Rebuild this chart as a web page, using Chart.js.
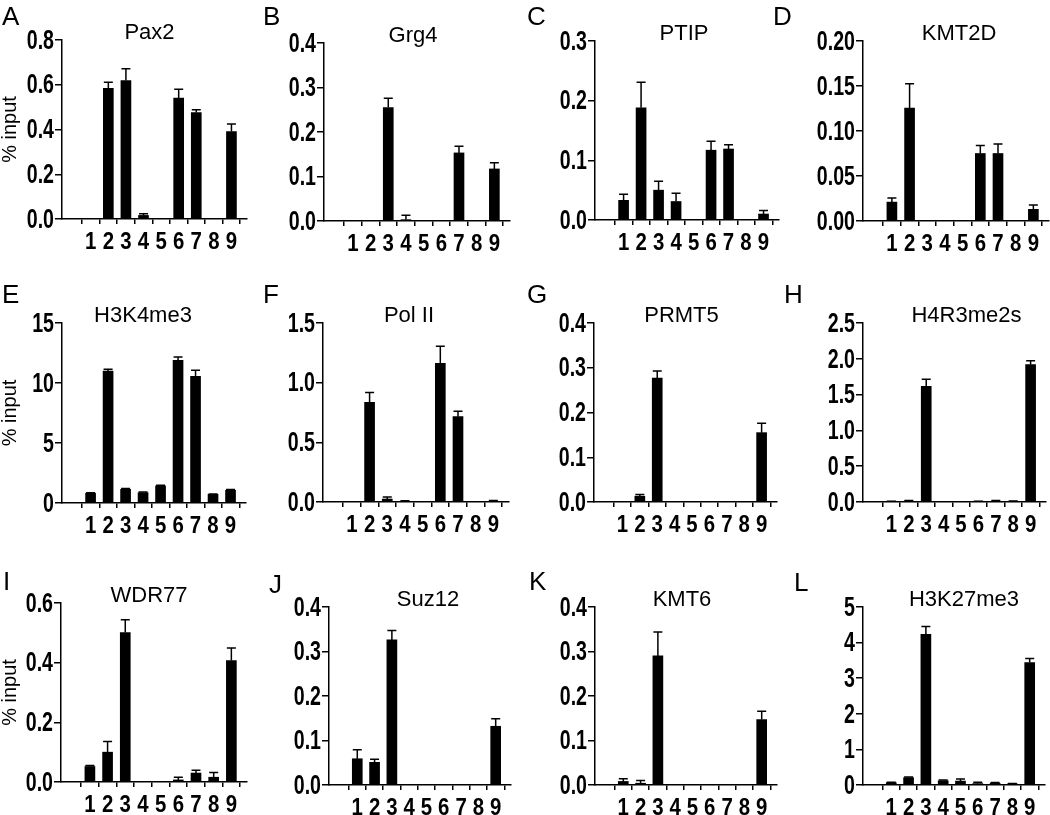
<!DOCTYPE html>
<html>
<head>
<meta charset="utf-8">
<script src="https://cdn.jsdelivr.net/npm/chart.js@4.4.1/dist/chart.umd.min.js"></script>
<style>
  html, body { margin: 0; padding: 0; background: #fff; overflow: hidden; }
  body { width: 1050px; height: 815px; position: relative; }
  .panel { position: absolute; }
  .letter { position: absolute; z-index: 2; color: #000;
            font: 26px 'Liberation Sans', Arial, sans-serif; line-height: 26px; }
</style>
</head>
<body>
<script>
// ChIP sites on the x axis
const sites = [1, 2, 3, 4, 5, 6, 7, 8, 9];

// % input, mean and error (upper bar only)
const pax2     = [0, 0.584, 0.619, 0.016, 0, 0.540, 0.476, 0, 0.391];
const pax2Err  = [0, 0.027, 0.052, 0.008, 0, 0.040, 0.012, 0, 0.034];
const grg4     = [0, 0, 0.255, 0.003, 0, 0, 0.153, 0, 0.117];
const grg4Err  = [0, 0, 0.021, 0.010, 0, 0, 0.015, 0, 0.014];
const ptip     = [0.033, 0.188, 0.050, 0.031, 0, 0.117, 0.119, 0, 0.010];
const ptipErr  = [0.010, 0.043, 0.015, 0.014, 0, 0.015, 0.007, 0, 0.006];
const kmt2d    = [0.021, 0.1255, 0, 0, 0, 0.075, 0.075, 0, 0.013];
const kmt2dErr = [0.0045, 0.027, 0, 0, 0, 0.009, 0.0106, 0, 0.0048];

const h3k4me3    = [0.81, 11.0, 1.14, 0.86, 1.42, 11.89, 10.56, 0.72, 1.06];
const h3k4me3Err = [0.05, 0.14, 0.06, 0.05, 0.05, 0.28, 0.5, 0.04, 0.06];
const polII      = [0, 0.835, 0.025, 0.005, 0, 1.161, 0.715, 0, 0.004];
const polIIErr   = [0, 0.083, 0.017, 0.006, 0, 0.144, 0.045, 0, 0.008];
const prmt5      = [0, 0.013, 0.277, 0, 0, 0, 0, 0, 0.155];
const prmt5Err   = [0, 0.004, 0.016, 0, 0, 0, 0, 0, 0.021];
const h4r3me2s    = [0.005, 0.01, 1.615, 0, 0, 0.005, 0.01, 0.01, 1.918];
const h4r3me2sErr = [0.005, 0.01, 0.098, 0, 0, 0.005, 0.01, 0.005, 0.056];

const wdr77     = [0.052, 0.100, 0.501, 0, 0, 0.007, 0.030, 0.016, 0.407];
const wdr77Err  = [0.003, 0.036, 0.043, 0, 0, 0.009, 0.009, 0.016, 0.042];
const suz12     = [0.059, 0.051, 0.326, 0, 0, 0, 0, 0, 0.132];
const suz12Err  = [0.020, 0.007, 0.021, 0, 0, 0, 0, 0, 0.017];
const kmt6      = [0.008, 0.004, 0.290, 0, 0, 0, 0, 0, 0.147];
const kmt6Err   = [0.006, 0.006, 0.054, 0, 0, 0, 0, 0, 0.019];
const h3k27me3    = [0.066, 0.206, 4.23, 0.12, 0.11, 0.04, 0.05, 0.03, 3.44];
const h3k27me3Err = [0.01, 0.02, 0.22, 0.02, 0.06, 0.04, 0.02, 0.01, 0.11];

// y tick labels per panel
const ticks08  = ['0.0', '0.2', '0.4', '0.6', '0.8'];
const ticks04  = ['0.0', '0.1', '0.2', '0.3', '0.4'];
const ticks03  = ['0.0', '0.1', '0.2', '0.3'];
const ticks020 = ['0.00', '0.05', '0.10', '0.15', '0.20'];
const ticks15  = ['0', '5', '10', '15'];
const ticks1_5 = ['0.0', '0.5', '1.0', '1.5'];
const ticks2_5 = ['0.0', '0.5', '1.0', '1.5', '2.0', '2.5'];
const ticks06  = ['0.0', '0.2', '0.4', '0.6'];
const ticks5   = ['0', '1', '2', '3', '4', '5'];

const panels = [
  {letter: 'A', title: 'Pax2', values: pax2, errors: pax2Err, ticks: ticks08, yTitle: true,
   left: 0, width: 262, top: 40, bottom: 219, axisX: 62, axisEnd: 247, dx: -5, lx: 2, ly: 7},
  {letter: 'B', title: 'Grg4', values: grg4, errors: grg4Err, ticks: ticks04,
   left: 262, width: 263, top: 43, bottom: 221, axisX: 62, axisEnd: 248, dx: -4, lx: 263, ly: 7},
  {letter: 'C', title: 'PTIP', values: ptip, errors: ptipErr, ticks: ticks03,
   left: 525, width: 262, top: 41, bottom: 220, axisX: 70, axisEnd: 254, dx: -3, lx: 527, ly: 7},
  {letter: 'D', title: 'KMT2D', values: kmt2d, errors: kmt2dErr, ticks: ticks020,
   left: 787, width: 263, top: 41, bottom: 221, axisX: 76, axisEnd: 262, dx: 3, lx: 773, ly: 7},
  {letter: 'E', title: 'H3K4me3', values: h3k4me3, errors: h3k4me3Err, ticks: ticks15, yTitle: true,
   left: 0, width: 262, top: 323, bottom: 503, axisX: 62, axisEnd: 246, dx: -11, lx: 2, ly: 285},
  {letter: 'F', title: 'Pol II', values: polII, errors: polIIErr, ticks: ticks1_5,
   left: 262, width: 263, top: 323, bottom: 502, axisX: 61, axisEnd: 247, dx: -7, lx: 263, ly: 285},
  {letter: 'G', title: 'PRMT5', values: prmt5, errors: prmt5Err, ticks: ticks04,
   left: 525, width: 262, top: 323, bottom: 502, axisX: 69, axisEnd: 252, dx: -4, lx: 527, ly: 285},
  {letter: 'H', title: 'H4R3me2s', values: h4r3me2s, errors: h4r3me2sErr, ticks: ticks2_5,
   left: 787, width: 263, top: 323, bottom: 502, axisX: 76, axisEnd: 259, dx: 12, lx: 784, ly: 285},
  {letter: 'I', title: 'WDR77', values: wdr77, errors: wdr77Err, ticks: ticks06, yTitle: true,
   left: 0, width: 262, top: 603, bottom: 782, axisX: 61, axisEnd: 247, dx: -5, lx: 3, ly: 572},
  {letter: 'J', title: 'Suz12', values: suz12, errors: suz12Err, ticks: ticks04,
   left: 262, width: 263, top: 607, bottom: 785, axisX: 67, axisEnd: 249, dx: 8, lx: 269, ly: 575},
  {letter: 'K', title: 'KMT6', values: kmt6, errors: kmt6Err, ticks: ticks04,
   left: 525, width: 262, top: 607, bottom: 785, axisX: 70, axisEnd: 252, dx: -4, lx: 529, ly: 572},
  {letter: 'L', title: 'H3K27me3', values: h3k27me3, errors: h3k27me3Err, ticks: ticks5,
   left: 787, width: 263, top: 607, bottom: 785, axisX: 76, axisEnd: 258, dx: 10, lx: 794, ly: 573}
];

const sans = "'Liberation Sans', Arial, sans-serif";
const PAD_TOP = 40;
const X_AXIS_H = 36;

// upward error bars with a cap
const errorBars = {
  id: 'errorBars',
  afterDatasetsDraw(chart) {
    const ds = chart.data.datasets[0];
    const meta = chart.getDatasetMeta(0);
    const yScale = chart.scales.y;
    const ctx = chart.ctx;
    ctx.save();
    ctx.strokeStyle = '#000';
    ctx.lineWidth = 1.5;
    meta.data.forEach((bar, i) => {
      const e = ds.errors[i];
      if (!e) return;
      const top = yScale.getPixelForValue(ds.data[i].y + e);
      ctx.beginPath();
      ctx.moveTo(bar.x, bar.y);
      ctx.lineTo(bar.x, top);
      ctx.moveTo(bar.x - 4.5, top);
      ctx.lineTo(bar.x + 4.5, top);
      ctx.stroke();
    });
    ctx.restore();
  }
};

// title above the plot
const panelTitle = {
  id: 'panelTitle',
  afterDraw(chart, args, opts) {
    const a = chart.chartArea;
    const ctx = chart.ctx;
    ctx.save();
    ctx.font = '22px ' + sans;
    ctx.fillStyle = '#000';
    ctx.textAlign = 'center';
    ctx.textBaseline = 'middle';
    ctx.fillText(opts.text, (a.left + a.right) / 2 + opts.dx, a.top - 7);
    ctx.restore();
  }
};

// bold condensed tick labels (no condensed font installed, so squeeze them)
const condensedTicks = {
  id: 'condensedTicks',
  afterDraw(chart, args, opts) {
    const ctx = chart.ctx;
    const xs = chart.scales.x, ys = chart.scales.y;
    ctx.save();
    ctx.fillStyle = '#000';
    ctx.font = 'bold 28px ' + sans;
    ctx.textAlign = 'right';
    ctx.textBaseline = 'middle';
    ys.ticks.forEach((t, i) => {
      ctx.save();
      ctx.translate(ys.right - 8, ys.getPixelForValue(t.value) + 1);
      ctx.scale(0.7, 1);
      ctx.fillText(opts.y[i], 0, 0);
      ctx.restore();
    });
    ctx.font = 'bold 24px ' + sans;
    ctx.textAlign = 'center';
    ctx.textBaseline = 'alphabetic';
    xs.ticks.forEach((t, i) => {
      ctx.save();
      ctx.translate(xs.getPixelForValue(t.value), xs.top + 30);
      ctx.scale(0.85, 1);
      ctx.fillText(opts.x[i], 0, 0);
      ctx.restore();
    });
    ctx.restore();
  }
};

panels.forEach(p => {
  const letter = document.createElement('div');
  letter.className = 'letter';
  letter.textContent = p.letter;
  letter.style.left = p.lx + 'px';
  letter.style.top = (p.ly - 4) + 'px';
  document.body.appendChild(letter);

  const h = (p.bottom - p.top) + PAD_TOP + X_AXIS_H;
  const box = document.createElement('div');
  box.className = 'panel';
  box.style.left = p.left + 'px';
  box.style.top = (p.top - PAD_TOP) + 'px';
  const canvas = document.createElement('canvas');
  canvas.width = p.width;
  canvas.height = h;
  box.appendChild(canvas);
  document.body.appendChild(box);

  const tickVals = p.ticks.map(t => parseFloat(t));

  new Chart(canvas, {
    type: 'bar',
    data: {
      datasets: [{
        data: sites.map((s, i) => ({x: s, y: p.values[i]})),
        errors: p.errors,
        backgroundColor: '#000',
        borderWidth: 0,
        barThickness: 10
      }]
    },
    options: {
      responsive: false,
      animation: false,
      layout: {padding: {top: PAD_TOP, left: 0, right: p.width - p.axisEnd, bottom: 0}},
      plugins: {
        legend: {display: false},
        tooltip: {enabled: false},
        panelTitle: {text: p.title, dx: p.dx},
        condensedTicks: {x: sites.map(String), y: p.ticks}
      },
      scales: {
        x: {
          type: 'linear',
          min: -0.05,
          max: 9.3,
          afterBuildTicks: s => { s.ticks = sites.map(v => ({value: v})); },
          afterFit: s => { s.height = X_AXIS_H; },
          grid: {drawOnChartArea: false, tickLength: 5, color: '#000', lineWidth: 1.5},
          border: {color: '#000', width: 1.5},
          ticks: {display: false}
        },
        y: {
          min: 0,
          max: tickVals[tickVals.length - 1],
          afterBuildTicks: s => { s.ticks = tickVals.map(v => ({value: v})); },
          afterFit: s => { s.width = p.axisX; },
          grid: {drawOnChartArea: false, tickLength: 7, color: '#000', lineWidth: 1.5},
          border: {color: '#000', width: 1.5},
          ticks: {display: false},
          title: {
            display: !!p.yTitle,
            text: '% input',
            color: '#000',
            font: {family: sans, size: 20, lineHeight: 1},
            padding: {top: 0, bottom: 0}
          }
        }
      }
    },
    plugins: [errorBars, panelTitle, condensedTicks]
  });
});
</script>
</body>
</html>
